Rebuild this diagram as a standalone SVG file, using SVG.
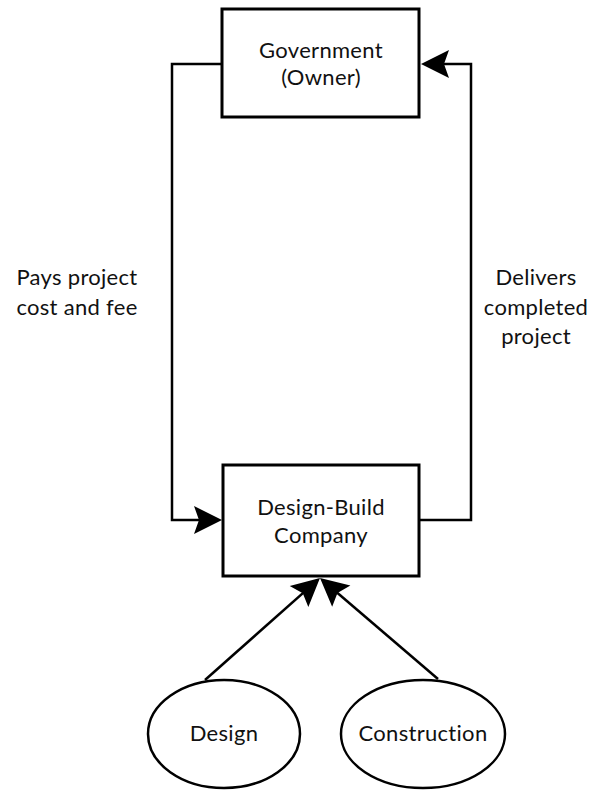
<svg xmlns="http://www.w3.org/2000/svg" width="600" height="791" viewBox="0 0 600 791">
  <style>
    .box { fill: #fff; stroke: #000; stroke-width: 3; }
    .oval { fill: #fff; stroke: #000; stroke-width: 2.5; }
    .wire { fill: none; stroke: #000; stroke-width: 2.5; }
    text { font-family: "Lato", "Noto Sans", sans-serif; font-size: 22px; letter-spacing: 0.3px; fill: #111; text-anchor: middle; }
  </style>
  <defs>
    <!-- barbed arrowhead; tip sits 10px beyond the path end -->
    <marker id="arrow" markerUnits="userSpaceOnUse" markerWidth="40" markerHeight="40" refX="0" refY="0" orient="auto" overflow="visible">
      <path d="M10,0 L-18,-14 L-13,0 L-18,14 Z" fill="#000"/>
    </marker>
  </defs>

  <g id="connectors">
    <path class="wire" d="M222,64 H172 V520 H212" marker-end="url(#arrow)"/>
    <path class="wire" d="M419,520 H471 V64 H431" marker-end="url(#arrow)"/>
    <path class="wire" d="M205,680 L312.5,584.6" marker-end="url(#arrow)"/>
    <path class="wire" d="M438,679 L327.6,584.5" marker-end="url(#arrow)"/>
  </g>

  <g id="owner">
    <rect class="box" x="222" y="9" width="197" height="108"/>
    <text x="321" y="58">Government</text>
    <text x="321" y="85">(Owner)</text>
  </g>

  <g id="design-build">
    <rect class="box" x="223" y="465" width="196" height="111"/>
    <text x="321" y="515">Design-Build</text>
    <text x="321" y="543">Company</text>
  </g>

  <g id="design">
    <ellipse class="oval" cx="224" cy="734" rx="76" ry="54"/>
    <text x="224" y="741">Design</text>
  </g>

  <g id="construction">
    <ellipse class="oval" cx="423" cy="734" rx="82" ry="54"/>
    <text x="423" y="741">Construction</text>
  </g>

  <g id="labels">
    <text x="77" y="285">Pays project</text>
    <text x="77" y="315">cost and fee</text>
    <text x="536" y="285">Delivers</text>
    <text x="536" y="315">completed</text>
    <text x="536" y="344">project</text>
  </g>
</svg>
